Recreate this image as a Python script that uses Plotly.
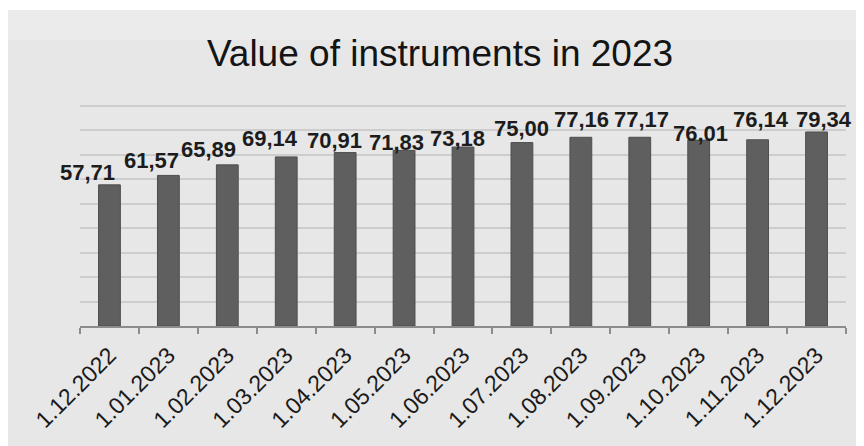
import plotly.graph_objects as go

categories = ["1.12.2022", "1.01.2023", "1.02.2023", "1.03.2023", "1.04.2023",
              "1.05.2023", "1.06.2023", "1.07.2023", "1.08.2023", "1.09.2023",
              "1.10.2023", "1.11.2023", "1.12.2023"]
values = [57.71, 61.57, 65.89, 69.14, 70.91, 71.83, 73.18, 75.00, 77.16, 77.17,
          76.01, 76.14, 79.34]
title_text = "Value of instruments in 2023"

# label nudges (pixels) to mimic the original placement
label_dx = [-22, -17, -19, -16, -11, -8, -6, 0, 1, 2, 2, 3, 7]
label_dy = [3, 5.5, 6, 9, 3, -1.5, 0, 5, 9, 9, -2, 11, 3]

labels = [f"{v:.2f}".replace(".", ",") for v in values]

W, H = 864, 446
L, R, T, B = 80, 18, 101, 120
Y_MAX = 92

fig = go.Figure()
fig.add_trace(go.Bar(
    x=categories, y=values,
    marker=dict(color="#5f5f5f", line=dict(color="#4e4e4e", width=1)),
    width=0.37, hoverinfo="x+y",
))

annotations = []
for c, v, t, dx, dy in zip(categories, values, labels, label_dx, label_dy):
    annotations.append(dict(
        x=c, y=v, xref="x", yref="y", text=t, showarrow=False,
        xanchor="center", yanchor="middle",
        xshift=dx, yshift=dy + 9,
        font=dict(family="Liberation Sans, Arial, sans-serif", size=22,
                  color="#1c1c1c", weight="bold"),
    ))

pw = W - L - R
ph = H - T - B
def px(xp):
    return (xp - L) / pw
def py(yp):
    return (H - B - yp) / ph

shapes = [
    dict(type="rect", xref="paper", yref="paper", layer="below",
         x0=px(8), x1=px(856), y0=py(446), y1=py(10),
         fillcolor="#e7e7e7", line=dict(width=0)),
    dict(type="rect", xref="paper", yref="paper", layer="below",
         x0=px(8), x1=px(856), y0=py(40), y1=py(10),
         fillcolor="#ebebeb", line=dict(width=0)),
]

fig.update_layout(
    width=W, height=H,
    margin=dict(l=L, r=R, t=T, b=B, autoexpand=False, pad=0),
    paper_bgcolor="#ffffff",
    plot_bgcolor="rgba(0,0,0,0)",
    title=dict(text=title_text, x=440 / W, y=1 - 53 / H,
               xanchor="center", yanchor="middle",
               font=dict(family="Liberation Sans, Arial, sans-serif", size=37,
                         color="#141414")),
    showlegend=False,
    annotations=annotations,
    shapes=shapes,
    bargap=0.63,
    xaxis=dict(
        type="category",
        range=[-0.5, len(categories) - 0.5],
        automargin=False,
        tickangle=-45,
        tickfont=dict(family="Liberation Sans, Arial, sans-serif", size=23,
                      color="#1a1a1a"),
        showline=True, linecolor="#8c8c8c", linewidth=1.5,
        ticks="outside", tickson="boundaries", ticklen=6, tickcolor="#8c8c8c",
        tickwidth=1.5, showgrid=False,
        ticklabelstandoff=5,
    ),
    yaxis=dict(
        automargin=False,
        range=[0, Y_MAX], tickvals=[10, 20, 30, 40, 50, 60, 70, 80, 90],
        showticklabels=False,
        showgrid=True, gridcolor="#cdcdcd", gridwidth=1.5,
        zeroline=False, showline=False, ticks="",
    ),
)

fig.write_html("out.html")
